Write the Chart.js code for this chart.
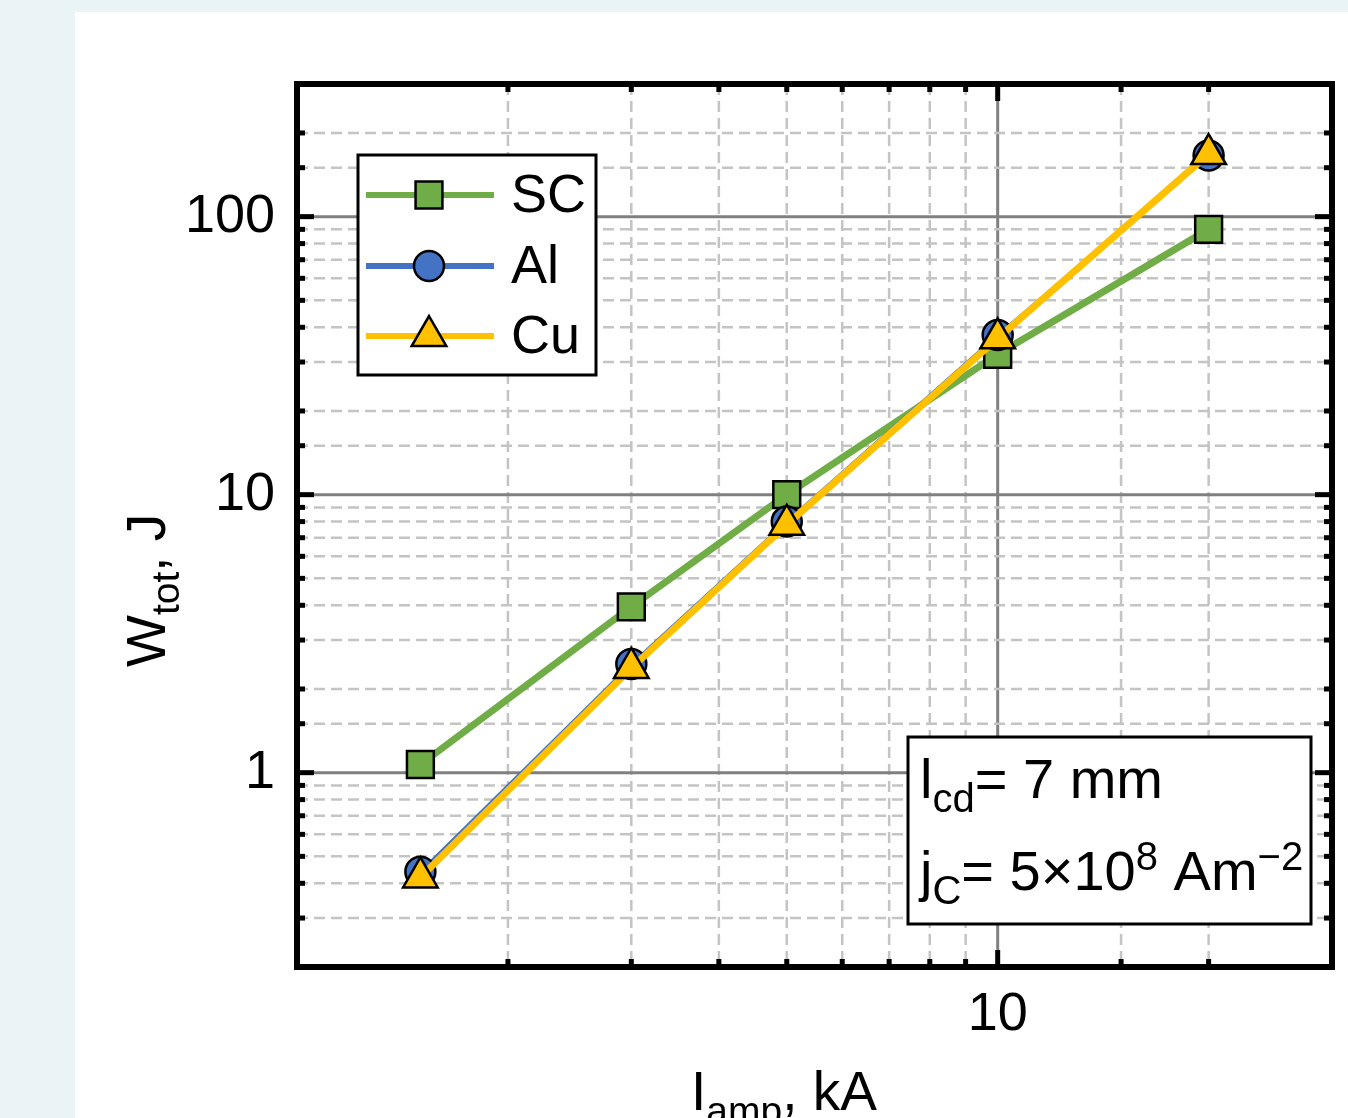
<!DOCTYPE html>
<html>
<head>
<meta charset="utf-8">
<script src="https://cdn.jsdelivr.net/npm/chart.js@4.4.1/dist/chart.umd.min.js"></script>
<style>
  body { margin: 0; background: #eaf3f6; overflow: hidden; }
  .card { position: absolute; left: 75px; top: 12px; width: 1273px; height: 1106px; background: #fff; }
</style>
</head>
<body>
<div class="card"><canvas id="energyChart" width="1273" height="1106"></canvas></div>
<script>
// data
const currents = [1.5, 3, 5, 10, 20];          // I_amp, kA
const energySC = [1.07, 3.95, 10, 32, 90];    // W_tot, J
const energyAl = [0.44, 2.46, 8.0, 37.5, 166];
const energyCu = [0.42, 2.38, 7.8, 36.5, 168];

const xTickLabels = [10];
const yTickLabels = [1, 10, 100];

const FONT = '"Liberation Sans", Arial, sans-serif';

function pts(ys) {
  return currents.map((x, i) => ({ x: x, y: ys[i] }));
}

function isDecade(v) {
  const l = Math.log10(v);
  return Math.abs(l - Math.round(l)) < 1e-9;
}

// text with sub/superscripts: parts = [text, size, dy]
function drawRich(ctx, parts, x, y, rotate) {
  ctx.save();
  ctx.translate(x, y);
  if (rotate) ctx.rotate(-Math.PI / 2);
  ctx.fillStyle = '#000';
  ctx.textBaseline = 'alphabetic';
  ctx.textAlign = 'left';
  let cx = 0;
  parts.forEach(p => {
    ctx.font = p[1] + 'px ' + FONT;
    ctx.fillText(p[0], cx, p[2]);
    cx += ctx.measureText(p[0]).width;
  });
  ctx.restore();
}

// grid behind the lines
const gridPlugin = {
  id: 'logGrid',
  beforeDatasetsDraw(chart) {
    const { ctx, chartArea: a } = chart;
    const xs = chart.scales.x, ys = chart.scales.y;
    ctx.save();
    ctx.beginPath();
    ctx.rect(a.left, a.top, a.right - a.left, a.bottom - a.top);
    ctx.clip();
    xs.ticks.forEach(t => {
      const px = xs.getPixelForValue(t.value);
      const major = isDecade(t.value);
      ctx.strokeStyle = major ? '#808080' : '#c4c4c4';
      ctx.lineWidth = major ? 3 : 2.5;
      ctx.setLineDash(major ? [] : [11, 6]);
      ctx.beginPath();
      ctx.moveTo(px, a.top);
      ctx.lineTo(px, a.bottom);
      ctx.stroke();
    });
    ys.ticks.forEach(t => {
      const py = ys.getPixelForValue(t.value);
      const major = isDecade(t.value);
      ctx.strokeStyle = major ? '#808080' : '#c4c4c4';
      ctx.lineWidth = major ? 3 : 2.5;
      ctx.setLineDash(major ? [] : [11, 6]);
      ctx.beginPath();
      ctx.moveTo(a.left, py);
      ctx.lineTo(a.right, py);
      ctx.stroke();
    });
    ctx.restore();
  }
};

// frame, inward ticks, legend box, note box, axis titles
const framePlugin = {
  id: 'frameStuff',
  afterDraw(chart) {
    const { ctx, chartArea: a } = chart;
    const xs = chart.scales.x, ys = chart.scales.y;
    ctx.save();
    ctx.setLineDash([]);
    ctx.fillStyle = '#000';
    xs.ticks.forEach(t => {
      const px = xs.getPixelForValue(t.value);
      const len = isDecade(t.value) ? 17 : 8;
      ctx.fillRect(px - 2.5, a.bottom - len, 5, len);
      ctx.fillRect(px - 2.5, a.top, 5, len);
    });
    ys.ticks.forEach(t => {
      const py = ys.getPixelForValue(t.value);
      const len = isDecade(t.value) ? 17 : 8;
      ctx.fillRect(a.left, py - 2.5, len, 5);
      ctx.fillRect(a.right - len, py - 2.5, len, 5);
    });
    ctx.strokeStyle = '#000';
    ctx.lineWidth = 6;
    ctx.strokeRect(a.left, a.top, a.right - a.left, a.bottom - a.top);

    // legend
    ctx.fillStyle = '#fff';
    ctx.fillRect(283, 143, 238, 220);
    ctx.lineWidth = 3;
    ctx.strokeRect(283, 143, 238, 220);
    const rowY = [183, 254, 324];
    chart.data.datasets.forEach((ds, i) => {
      const y = rowY[i];
      ctx.strokeStyle = ds.borderColor;
      ctx.lineWidth = 6;
      ctx.beginPath();
      ctx.moveTo(291, y);
      ctx.lineTo(419, y);
      ctx.stroke();
      ctx.fillStyle = ds.pointBackgroundColor;
      ctx.strokeStyle = '#000';
      ctx.lineWidth = ds.pointBorderWidth;
      Chart.helpers.drawPoint(ctx, {
        pointStyle: ds.pointStyle, radius: ds.pointRadius,
        rotation: 0, borderWidth: ds.pointBorderWidth
      }, 354, y);
      ctx.fillStyle = '#000';
      ctx.font = '54px ' + FONT;
      ctx.textBaseline = 'middle';
      ctx.textAlign = 'left';
      ctx.fillText(ds.label, 436, y + 2);
    });

    // note box
    ctx.fillStyle = '#fff';
    ctx.fillRect(833, 725, 403, 187);
    ctx.strokeStyle = '#000';
    ctx.lineWidth = 3;
    ctx.strokeRect(833, 725, 403, 187);
    ctx.restore();

    drawRich(ctx, [['l', 56, 0], ['cd', 40, 14], ['= 7 mm', 56, 0]], 845, 786);
    drawRich(ctx, [['j', 56, 0], ['C', 40, 14], ['= 5\u00d710', 56, 0], ['8', 40, -20],
      [' Am', 56, 0], ['\u22122', 40, -20]], 845, 878);

    // axis titles
    drawRich(ctx, [['I', 55, 0], ['amp', 39, 14], [', kA', 55, 0]], 616, 1098);
    drawRich(ctx, [['W', 55, 0], ['tot', 39, 14], [', J', 55, 0]], 90, 655, true);
  }
};

const ctx = document.getElementById('energyChart');
const energyChart = new Chart(ctx, {
  type: 'line',
  data: {
    datasets: [{
      label: 'SC',
      data: pts(energySC),
      borderColor: '#70ad47',
      borderWidth: 7,
      pointStyle: 'rect',
      pointRadius: 19,
      pointBackgroundColor: '#70ad47',
      pointBorderColor: '#000',
      pointBorderWidth: 2.5,
      order: 3
    }, {
      label: 'Al',
      data: pts(energyAl),
      borderColor: '#4472c4',
      borderWidth: 3,
      pointStyle: 'circle',
      pointRadius: 15,
      pointBackgroundColor: '#4472c4',
      pointBorderColor: '#000',
      pointBorderWidth: 2.5,
      order: 2
    }, {
      label: 'Cu',
      data: pts(energyCu),
      borderColor: '#ffc000',
      borderWidth: 7,
      pointStyle: 'triangle',
      pointRadius: 20,
      pointBackgroundColor: '#ffc000',
      pointBorderColor: '#000',
      pointBorderWidth: 2.5,
      order: 1
    }]
  },
  options: {
    responsive: false,
    animation: false,
    clip: false,
    layout: { autoPadding: false, padding: { top: 72, right: 16, left: 0, bottom: 0 } },
    plugins: { legend: { display: false }, tooltip: { enabled: false } },
    elements: { line: { tension: 0 } },
    scales: {
      x: {
        type: 'logarithmic',
        min: 1,
        max: 30,
        grid: { display: false, drawTicks: false },
        border: { display: false },
        afterFit: s => { s.height = 151; s.paddingLeft = 0; s.paddingRight = 0; },
        ticks: {
          autoSkip: false,
          maxRotation: 0,
          padding: 16,
          color: '#000',
          font: { family: FONT, size: 54 },
          callback: v => xTickLabels.includes(v) ? String(v) : ''
        }
      },
      y: {
        type: 'logarithmic',
        min: 0.2,
        max: 300,
        grid: { display: false, drawTicks: false },
        border: { display: false },
        afterFit: s => { s.width = 222; s.paddingTop = 0; s.paddingBottom = 0; },
        ticks: {
          autoSkip: false,
          padding: 22,
          color: '#000',
          font: { family: FONT, size: 54 },
          callback: v => yTickLabels.includes(v) ? String(v) : ''
        }
      }
    }
  },
  plugins: [gridPlugin, framePlugin]
});
</script>
</body>
</html>
